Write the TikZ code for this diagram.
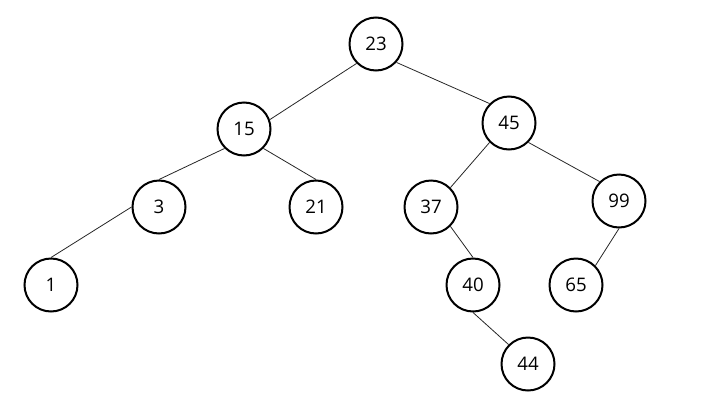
\documentclass[tikz,border=0pt]{standalone}
\usepackage{fontspec}
\setmainfont{Open Sans}
\usepackage{tikz}
\tikzset{
    key/.style={
           circle,
           draw=black, line width=1.5pt,
           minimum size=39.75pt,
           inner sep=0pt,
           text centered,
           font=\fontsize{14}{16}\selectfont,
           },
}
\tikzset{
    link/.style={
           draw=black!85, line width=0.6pt,
           },
}

\begin{document}
\begin{tikzpicture}[x=0.75pt,y=-0.75pt]
\useasboundingbox (0,0) rectangle (720,418);
\node[key](23) at (376,44){23};
\node[key](15) at (244,129){15};
\node[key](45) at (509,123){45};
\node[key](3) at (159,207){3};
\node[key](21) at (316,207){21};
\node[key](37) at (431,207){37};
\node[key](99) at (619,201){99};
\node[key](1) at (51,285){1};
\node[key](40) at (473,285){40};
\node[key](65) at (576,285){65};
\node[key](44) at (528,364){44};
\path (23.south west) edge[link] (15.20);
\path (23.-42) edge[link] (45.north west);
\path (15.south west) edge[link] (3.north);
\path (15.south east) edge[link] (21.north);
\path (3.west) edge[link] (1.north);
\path (45.south west) edge[link] (37.north east);
\path (45.south east) edge[link] (99.north west);
\path (37.south east) edge[link] (40.north);
\path (40.south) edge[link] (44.north west);
\path (99.south) edge[link] (65.north east);
\end{tikzpicture}
\end{document}
